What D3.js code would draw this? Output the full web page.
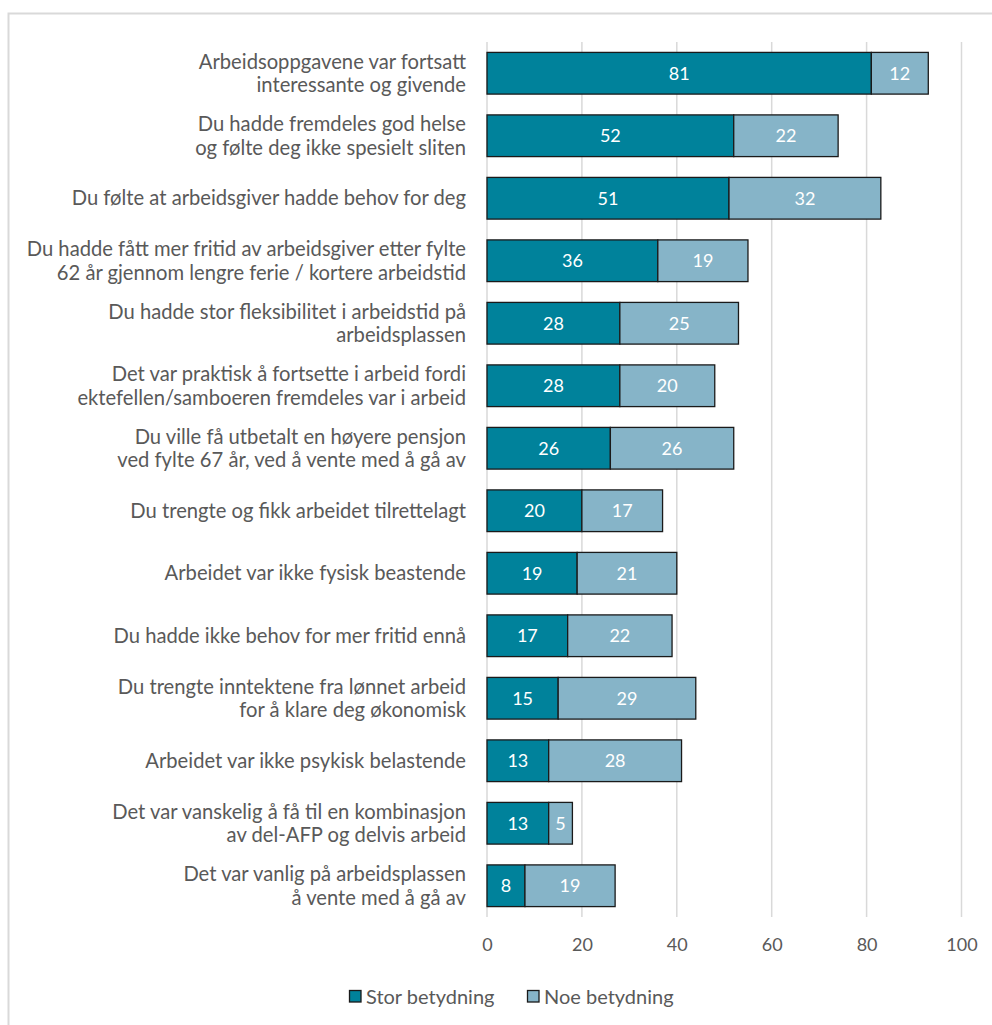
<!DOCTYPE html>
<html>
<head>
<meta charset="utf-8">
<script src="https://cdn.jsdelivr.net/npm/d3@7"></script>
<style>
  body { margin: 0; background: #fff; }
  text { font-family: "Lato", "Noto Sans", sans-serif; }
</style>
</head>
<body>
<div id="chart"></div>
<script>
const categories = [
  ["Arbeidsoppgavene var fortsatt", "interessante og givende"],
  ["Du hadde fremdeles god helse", "og følte deg ikke spesielt sliten"],
  ["Du følte at arbeidsgiver hadde behov for deg"],
  ["Du hadde fått mer fritid av arbeidsgiver etter fylte", "62 år gjennom lengre ferie / kortere arbeidstid"],
  ["Du hadde stor fleksibilitet i arbeidstid på", "arbeidsplassen"],
  ["Det var praktisk å fortsette i arbeid fordi", "ektefellen/samboeren fremdeles var i arbeid"],
  ["Du ville få utbetalt en høyere pensjon", "ved fylte 67 år, ved å vente med å gå av"],
  ["Du trengte og fikk arbeidet tilrettelagt"],
  ["Arbeidet var ikke fysisk beastende"],
  ["Du hadde ikke behov for mer fritid ennå"],
  ["Du trengte inntektene fra lønnet arbeid", "for å klare deg økonomisk"],
  ["Arbeidet var ikke psykisk belastende"],
  ["Det var vanskelig å få til en kombinasjon", "av del-AFP og delvis arbeid"],
  ["Det var vanlig på arbeidsplassen", "å vente med å gå av"]
];
const storValues = [81, 52, 51, 36, 28, 28, 26, 20, 19, 17, 15, 13, 13, 8];
const noeValues = [12, 22, 32, 19, 25, 20, 26, 17, 21, 22, 29, 28, 5, 19];
const seriesNames = ["Stor betydning", "Noe betydning"];
const seriesColors = ["#00829b", "#86b4c8"];
const xTicks = [0, 20, 40, 60, 80, 100];

const width = 992, height = 1025;
const svg = d3.select("#chart").append("svg")
  .attr("width", width).attr("height", height);

// outer frame
svg.append("rect")
  .attr("x", 8.5).attr("y", 13.5)
  .attr("width", 1000).attr("height", 1100)
  .attr("fill", "none").attr("stroke", "#d9d9d9").attr("stroke-width", 2);

const x = d3.scaleLinear().domain([0, 100]).range([487, 961.5]);
const y = d3.scaleBand()
  .domain(d3.range(categories.length))
  .range([42, 917])
  .paddingInner(0.333).paddingOuter(0.1665);

// gridlines
svg.append("g").selectAll("line").data(xTicks).join("line")
  .attr("x1", d => x(d)).attr("x2", d => x(d))
  .attr("y1", 42).attr("y2", 917)
  .attr("stroke", "#d9d9d9").attr("stroke-width", 1.5);

// x axis
const xAxis = svg.append("g")
  .attr("transform", "translate(0,917)")
  .call(d3.axisBottom(x).tickValues(xTicks).tickSize(0).tickPadding(21));
xAxis.select(".domain").remove();
xAxis.selectAll("text")
  .attr("fill", "#595959").style("font-size", "18px")
  .style("font-family", '"Lato", "Noto Sans", sans-serif');

const rows = categories.map((c, i) => ({
  i, lines: c, stor: storValues[i], noe: noeValues[i]
}));

const barG = svg.append("g");
rows.forEach(r => {
  const segs = [
    { x0: 0, x1: r.stor, v: r.stor, c: seriesColors[0] },
    { x0: r.stor, x1: r.stor + r.noe, v: r.noe, c: seriesColors[1] }
  ];
  segs.forEach(s => {
    barG.append("rect")
      .attr("x", x(s.x0)).attr("y", y(r.i))
      .attr("width", x(s.x1) - x(s.x0)).attr("height", y.bandwidth())
      .attr("fill", s.c).attr("stroke", "#1a1a1a").attr("stroke-width", 1.3);
    barG.append("text")
      .attr("x", (x(s.x0) + x(s.x1)) / 2)
      .attr("y", y(r.i) + y.bandwidth() / 2)
      .attr("dy", "0.35em")
      .attr("text-anchor", "middle")
      .attr("fill", "#fff").style("font-size", "18px")
      .text(s.v);
  });
});

// category labels
const labelG = svg.append("g");
rows.forEach(r => {
  const cy = y(r.i) + y.bandwidth() / 2;
  const lh = 23.5;
  const n = r.lines.length;
  r.lines.forEach((line, k) => {
    labelG.append("text")
      .attr("x", 466)
      .attr("y", cy + (k - (n - 1) / 2) * lh)
      .attr("dy", "0.35em")
      .attr("text-anchor", "end")
      .attr("fill", "#595959").style("font-size", "20.2px")
      .text(line);
  });
});

// legend
const legend = svg.append("g");
const legendX = [349, 527];
seriesNames.forEach((name, i) => {
  legend.append("rect")
    .attr("x", legendX[i] + 0.5).attr("y", 990.5)
    .attr("width", 11.5).attr("height", 11.5)
    .attr("fill", seriesColors[i]).attr("stroke", "#1a1a1a").attr("stroke-width", 1.3);
  legend.append("text")
    .attr("x", legendX[i] + 17).attr("y", 996.5)
    .attr("dy", "0.35em")
    .attr("fill", "#595959").style("font-size", "20px")
    .text(name);
});
</script>
</body>
</html>
